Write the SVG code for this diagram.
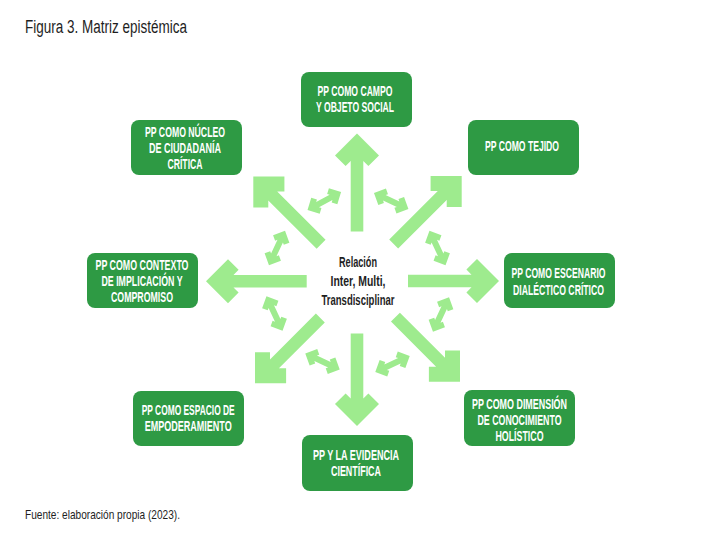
<svg xmlns="http://www.w3.org/2000/svg" width="711" height="542" viewBox="0 0 711 542">
<style>
.box{fill:#2e9a44;}
.bt{font-family:"Liberation Sans Narrow","Liberation Sans",Arial,sans-serif;font-weight:bold;font-size:15px;fill:#ffffff;text-anchor:middle;}
.ct{font-family:"Liberation Sans Narrow","Liberation Sans",Arial,sans-serif;font-weight:bold;font-size:15px;fill:#1e1e1e;text-anchor:middle;}
.cap{font-family:"Liberation Sans Narrow","Liberation Sans",Arial,sans-serif;fill:#1e1e1e;}
.arr{fill:#9eeb8e;}
</style>
<defs>
<path id="sm" d="M19,0 L10,-9 L5.8,-4.8 L7.6,-3 L-7.6,-3 L-5.8,-4.8 L-10,-9 L-19,0 L-10,9 L-5.8,4.8 L-7.6,3 L7.6,3 L5.8,4.8 L10,9 Z"/>
</defs>
<rect width="711" height="542" fill="#ffffff"/>
<text class="cap" x="25" y="32.5" font-size="18" textLength="162" lengthAdjust="spacingAndGlyphs">Figura 3. Matriz epistémica</text>
<text class="cap" x="25" y="518.5" font-size="13.5" textLength="155" lengthAdjust="spacingAndGlyphs">Fuente: elaboración propia (2023).</text>

<g id="connectors" class="arr">
<path transform="translate(357,133.5) rotate(-90)" d="M0,0 L-22,-22 L-32.6,-11.4 L-27.5,-6.3 L-98,-6.3 L-98,6.3 L-27.5,6.3 L-32.6,11.4 L-22,22 Z"/>
<path transform="translate(357,426) rotate(90)" d="M0,0 L-22,-22 L-32.6,-11.4 L-27.5,-6.3 L-92.5,-6.3 L-92.5,6.3 L-27.5,6.3 L-32.6,11.4 L-22,22 Z"/>
<path transform="translate(206,281.2) rotate(180)" d="M0,0 L-22,-22 L-32.6,-11.4 L-27.5,-6.3 L-100.7,-6.3 L-100.7,6.3 L-27.5,6.3 L-32.6,11.4 L-22,22 Z"/>
<path transform="translate(499,281) rotate(0)" d="M0,0 L-22,-22 L-32.6,-11.4 L-27.5,-6.3 L-91,-6.3 L-91,6.3 L-27.5,6.3 L-32.6,11.4 L-22,22 Z"/>
<path transform="translate(461.7,176) rotate(-45)" d="M0,0 L-22,-22 L-32.6,-11.4 L-27.5,-6.3 L-96.2,-6.3 L-96.2,6.3 L-27.5,6.3 L-32.6,11.4 L-22,22 Z"/>
<path transform="translate(253.3,176.5) rotate(-135)" d="M0,0 L-22,-22 L-32.6,-11.4 L-27.5,-6.3 L-95.9,-6.3 L-95.9,6.3 L-27.5,6.3 L-32.6,11.4 L-22,22 Z"/>
<path transform="translate(255,383.3) rotate(135)" d="M0,0 L-22,-22 L-32.6,-11.4 L-27.5,-6.3 L-92.4,-6.3 L-92.4,6.3 L-27.5,6.3 L-32.6,11.4 L-22,22 Z"/>
<path transform="translate(460,381.7) rotate(45)" d="M0,0 L-22,-22 L-32.6,-11.4 L-27.5,-6.3 L-91.3,-6.3 L-91.3,6.3 L-27.5,6.3 L-32.6,11.4 L-22,22 Z"/>
<use href="#sm" transform="translate(391.2,201) rotate(25)"/>
<use href="#sm" transform="translate(324.3,201) rotate(-28)"/>
<use href="#sm" transform="translate(437.5,248) rotate(65)"/>
<use href="#sm" transform="translate(277,248) rotate(-65)"/>
<use href="#sm" transform="translate(274.5,313.5) rotate(65)"/>
<use href="#sm" transform="translate(441,314.5) rotate(-65)"/>
<use href="#sm" transform="translate(322.5,361.5) rotate(25)"/>
<use href="#sm" transform="translate(392.5,364) rotate(-25)"/>
</g>

<g id="center">
<text class="ct" x="358" y="267" textLength="38" lengthAdjust="spacingAndGlyphs">Relación</text>
<text class="ct" x="358" y="286" textLength="55" lengthAdjust="spacingAndGlyphs">Inter, Multi,</text>
<text class="ct" x="358" y="305" textLength="73" lengthAdjust="spacingAndGlyphs">Transdisciplinar</text>
</g>

<g id="n-campo">
<rect class="box" x="301" y="72" width="111" height="55" rx="8"/>
<text class="bt" x="355" y="95.5" textLength="75" lengthAdjust="spacingAndGlyphs">PP COMO CAMPO</text>
<text class="bt" x="355" y="112" textLength="78" lengthAdjust="spacingAndGlyphs">Y OBJETO SOCIAL</text>
</g>

<g id="n-nucleo">
<rect class="box" x="131" y="120" width="111" height="55" rx="8"/>
<text class="bt" x="185" y="136.7" textLength="80" lengthAdjust="spacingAndGlyphs">PP COMO NÚCLEO</text>
<text class="bt" x="185" y="153" textLength="72" lengthAdjust="spacingAndGlyphs">DE CIUDADANÍA</text>
<text class="bt" x="185" y="169.3" textLength="35" lengthAdjust="spacingAndGlyphs">CRÍTICA</text>
</g>

<g id="n-tejido">
<rect class="box" x="468" y="120" width="111" height="55" rx="8"/>
<text class="bt" x="522" y="150.5" textLength="74" lengthAdjust="spacingAndGlyphs">PP COMO TEJIDO</text>
</g>

<g id="n-escenario">
<rect class="box" x="504" y="253" width="111" height="55" rx="8"/>
<text class="bt" x="558.5" y="278" textLength="94" lengthAdjust="spacingAndGlyphs">PP COMO ESCENARIO</text>
<text class="bt" x="558.5" y="294.5" textLength="91" lengthAdjust="spacingAndGlyphs">DIALÉCTICO CRÍTICO</text>
</g>

<g id="n-contexto">
<rect class="box" x="87" y="253" width="111" height="55" rx="8"/>
<text class="bt" x="142" y="269.5" textLength="93" lengthAdjust="spacingAndGlyphs">PP COMO CONTEXTO</text>
<text class="bt" x="142" y="286" textLength="81" lengthAdjust="spacingAndGlyphs">DE IMPLICACIÓN Y</text>
<text class="bt" x="142" y="302" textLength="62" lengthAdjust="spacingAndGlyphs">COMPROMISO</text>
</g>

<g id="n-espacio">
<rect class="box" x="133" y="391" width="111" height="55" rx="8"/>
<text class="bt" x="188.2" y="414.5" textLength="93" lengthAdjust="spacingAndGlyphs">PP COMO ESPACIO DE</text>
<text class="bt" x="188.2" y="430.5" textLength="87" lengthAdjust="spacingAndGlyphs">EMPODERAMIENTO</text>
</g>

<g id="n-evidencia">
<rect class="box" x="302" y="435" width="111" height="56" rx="8"/>
<text class="bt" x="356" y="459.5" textLength="86" lengthAdjust="spacingAndGlyphs">PP Y LA EVIDENCIA</text>
<text class="bt" x="356" y="475.5" textLength="50" lengthAdjust="spacingAndGlyphs">CIENTÍFICA</text>
</g>

<g id="n-dimension">
<rect class="box" x="464" y="390" width="111" height="56" rx="8"/>
<text class="bt" x="519.5" y="409" textLength="95" lengthAdjust="spacingAndGlyphs">PP COMO DIMENSIÓN</text>
<text class="bt" x="519.5" y="425" textLength="84" lengthAdjust="spacingAndGlyphs">DE CONOCIMIENTO</text>
<text class="bt" x="519.5" y="440.5" textLength="48" lengthAdjust="spacingAndGlyphs">HOLÍSTICO</text>
</g>
</svg>
